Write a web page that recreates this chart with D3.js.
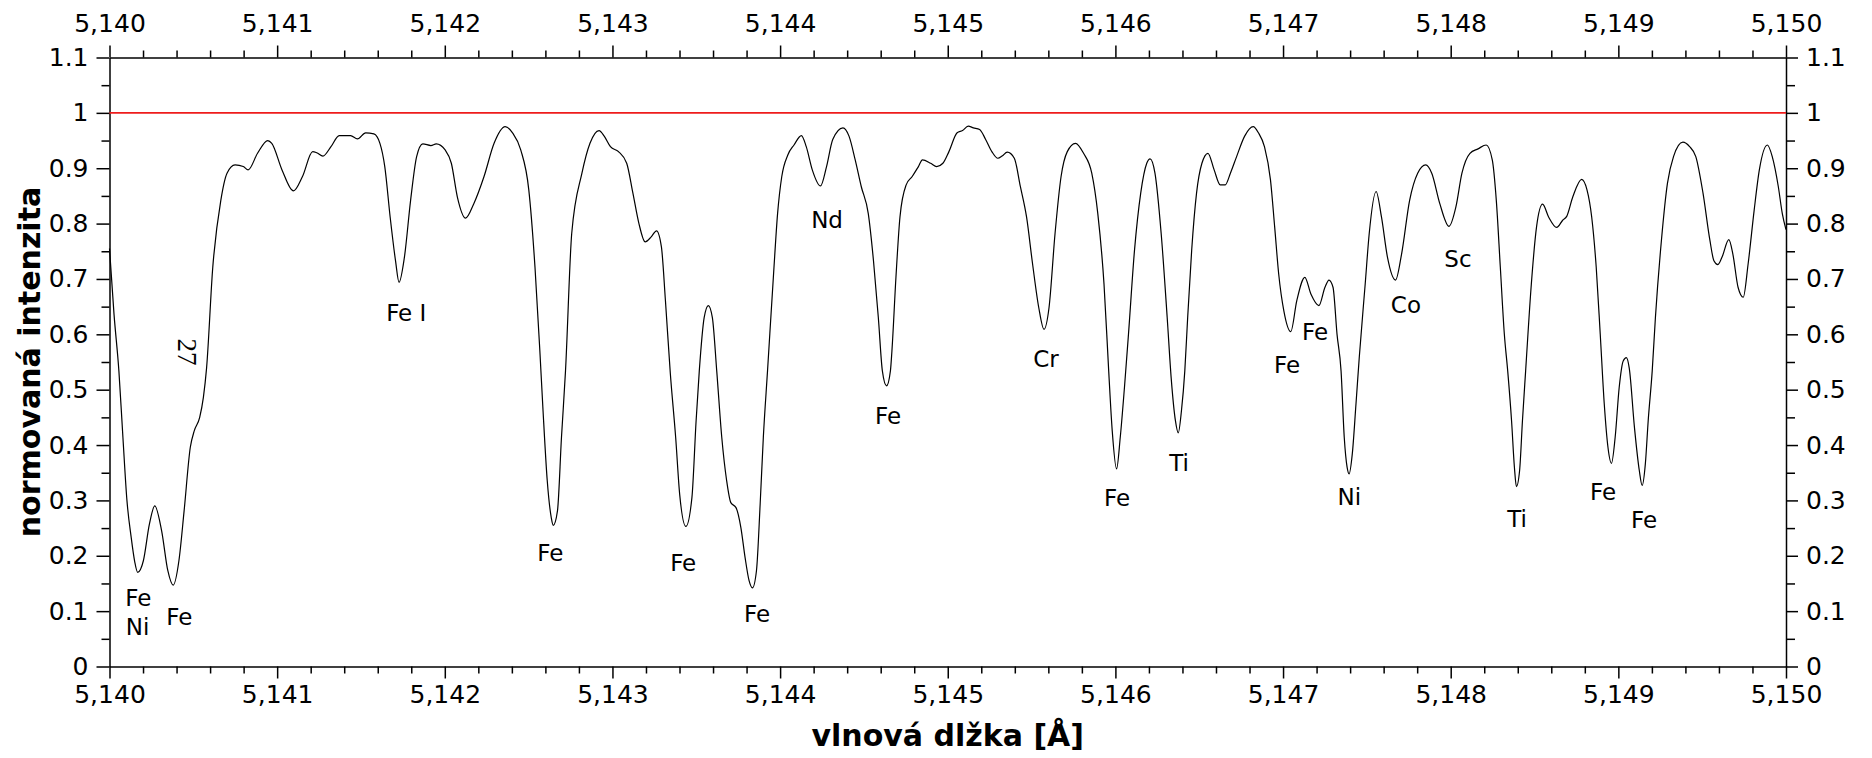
<!DOCTYPE html>
<html>
<head>
<meta charset="utf-8">
<script src="https://cdn.jsdelivr.net/npm/d3@7/dist/d3.min.js"></script>
<style>
  html, body { margin: 0; padding: 0; background: #fff; }
  svg { display: block; }
</style>
</head>
<body>
<script>
// ---- data ----
const wavelengths = [
5140.000,5140.027,5140.056,5140.080,5140.104,5140.129,5140.150,5140.168,5140.202,5140.238,5140.270,5140.311,5140.348,
5140.380,5140.414,5140.445,5140.482,5140.506,5140.538,5140.560,5140.579,5140.616,5140.664,
5140.701,5140.749,5140.798,5140.827,5140.883,5140.944,5140.968,5141.029,5141.097,5141.151,
5141.212,5141.236,5141.273,5141.321,5141.370,5141.438,5141.479,5141.528,5141.577,5141.613,
5141.642,5141.674,5141.706,5141.727,5141.759,5141.796,5141.832,5141.869,5141.917,5141.949,
5142.002,5142.039,5142.075,5142.124,5142.173,5142.234,5142.294,5142.360,5142.404,5142.453,
5142.501,5142.538,5142.567,5142.586,5142.611,5142.635,5142.647,5142.672,5142.696,5142.720,
5142.757,5142.818,5142.866,5142.920,5142.951,5142.988,5143.036,5143.085,5143.122,5143.158,
5143.195,5143.231,5143.263,5143.292,5143.316,5143.345,5143.377,5143.401,5143.438,5143.474,
5143.499,5143.518,5143.547,5143.572,5143.596,5143.622,5143.652,5143.681,5143.706,5143.737,
5143.766,5143.791,5143.815,5143.835,5143.859,5143.881,5143.900,5143.925,5143.961,5143.985,
5144.010,5144.046,5144.083,5144.127,5144.156,5144.192,5144.241,5144.277,5144.314,5144.375,
5144.411,5144.448,5144.484,5144.526,5144.557,5144.586,5144.610,5144.635,5144.658,5144.667,
5144.691,5144.715,5144.752,5144.788,5144.825,5144.849,5144.898,5144.934,5144.971,5145.007,
5145.056,5145.088,5145.122,5145.153,5145.190,5145.226,5145.263,5145.299,5145.324,5145.355,
5145.397,5145.433,5145.470,5145.506,5145.543,5145.574,5145.604,5145.640,5145.676,5145.713,
5145.762,5145.810,5145.859,5145.895,5145.932,5145.960,5145.981,5146.007,5146.029,5146.054,
5146.078,5146.114,5146.151,5146.187,5146.207,5146.236,5146.273,5146.309,5146.333,5146.358,
5146.375,5146.394,5146.414,5146.431,5146.455,5146.484,5146.516,5146.552,5146.589,5146.625,
5146.655,5146.686,5146.723,5146.771,5146.822,5146.853,5146.889,5146.925,5146.950,5146.974,
5147.005,5147.046,5147.082,5147.130,5147.166,5147.214,5147.250,5147.274,5147.298,5147.322,
5147.346,5147.365,5147.382,5147.394,5147.413,5147.435,5147.455,5147.490,5147.514,5147.555,
5147.587,5147.623,5147.671,5147.707,5147.755,5147.803,5147.851,5147.887,5147.935,5147.990,
5148.031,5148.067,5148.115,5148.163,5148.212,5148.248,5148.272,5148.296,5148.320,5148.340,
5148.363,5148.380,5148.392,5148.411,5148.428,5148.447,5148.481,5148.512,5148.548,5148.584,
5148.632,5148.668,5148.692,5148.728,5148.781,5148.813,5148.841,5148.868,5148.892,5148.916,
5148.938,5148.959,5148.981,5149.005,5149.029,5149.048,5149.065,5149.096,5149.125,5149.142,
5149.161,5149.178,5149.202,5149.221,5149.257,5149.293,5149.329,5149.385,5149.425,5149.462,
5149.505,5149.546,5149.570,5149.594,5149.618,5149.659,5149.683,5149.714,5149.745,5149.774,
5149.810,5149.841,5149.889,5149.918,5149.954,5149.978,5150.000
];
const intensities = [
0.755,0.636,0.534,0.414,0.300,0.234,0.190,0.170,0.191,0.257,0.290,0.245,0.173,
0.147,0.191,0.281,0.396,0.426,0.450,0.486,0.539,0.721,0.842,
0.891,0.906,0.903,0.897,0.927,0.950,0.945,0.897,0.859,0.885,
0.930,0.928,0.922,0.939,0.959,0.959,0.953,0.964,0.962,0.945,
0.903,0.812,0.733,0.694,0.739,0.842,0.921,0.944,0.941,0.944,
0.933,0.909,0.848,0.810,0.836,0.885,0.945,0.975,0.964,0.933,
0.861,0.721,0.570,0.462,0.336,0.269,0.255,0.281,0.414,0.534,
0.782,0.891,0.945,0.968,0.958,0.939,0.930,0.909,0.855,0.800,
0.767,0.776,0.787,0.758,0.661,0.530,0.414,0.311,0.253,0.305,
0.444,0.534,0.630,0.652,0.630,0.534,0.414,0.336,0.296,0.287,
0.251,0.197,0.155,0.142,0.173,0.293,0.414,0.534,0.709,0.818,
0.885,0.924,0.942,0.959,0.939,0.897,0.868,0.903,0.952,0.973,
0.958,0.915,0.867,0.818,0.733,0.630,0.534,0.507,0.534,0.570,
0.703,0.812,0.870,0.885,0.903,0.915,0.909,0.903,0.909,0.930,
0.964,0.968,0.976,0.973,0.970,0.952,0.930,0.918,0.922,0.929,
0.918,0.867,0.812,0.727,0.648,0.609,0.648,0.782,0.885,0.930,
0.945,0.927,0.891,0.818,0.691,0.534,0.426,0.357,0.414,0.504,
0.600,0.752,0.855,0.909,0.917,0.891,0.782,0.630,0.520,0.444,
0.422,0.462,0.534,0.630,0.752,0.855,0.909,0.927,0.897,0.870,
0.870,0.891,0.921,0.958,0.975,0.964,0.939,0.879,0.794,0.709,
0.642,0.605,0.661,0.703,0.673,0.652,0.685,0.698,0.685,0.600,
0.534,0.414,0.360,0.348,0.384,0.474,0.560,0.691,0.782,0.858,
0.812,0.739,0.698,0.745,0.842,0.891,0.906,0.891,0.836,0.795,
0.830,0.891,0.927,0.935,0.942,0.915,0.842,0.721,0.600,0.534,
0.444,0.360,0.325,0.354,0.444,0.534,0.691,0.794,0.835,0.812,
0.793,0.806,0.813,0.848,0.880,0.861,0.812,0.721,0.600,0.474,
0.396,0.367,0.414,0.504,0.552,0.558,0.539,0.432,0.354,0.327,
0.366,0.444,0.534,0.630,0.770,0.873,0.921,0.947,0.939,0.921,
0.855,0.770,0.733,0.726,0.739,0.771,0.745,0.685,0.667,0.727,
0.824,0.897,0.942,0.921,0.867,0.818,0.789
];
const continuumLevel = 1;

const lineLabels = ["Fe","Ni","Fe","Fe I","Fe","Fe","Fe","Nd","Fe","Cr","Fe","Ti","Fe","Fe","Co","Sc","Ni","Ti","Fe","Fe"];
const lineLabelWl = [5140.172,5140.168,5140.416,5141.770,5142.629,5143.422,5143.863,5144.280,5144.644,5145.586,5146.010,5146.380,5147.024,5147.191,5147.733,5148.043,5147.395,5148.396,5148.909,5149.154];
const lineLabelVal = [0.124,0.072,0.090,0.640,0.205,0.187,0.095,0.808,0.453,0.557,0.305,0.368,0.546,0.604,0.653,0.736,0.306,0.267,0.315,0.265];

const strayText = "27";
const strayWl = 5140.465;
const strayVal = 0.568;

const xMajorTicks = [5140,5141,5142,5143,5144,5145,5146,5147,5148,5149,5150];
const yMajorTicks = [0,0.1,0.2,0.3,0.4,0.5,0.6,0.7,0.8,0.9,1,1.1];
const xLabel = "vlnová dlžka [Å]";
const yLabel = "normovaná intenzita";

// ---- layout ----
const W = 1872, H = 758;
const L = 109.5, R = 1786, T = 57.5, B = 666.5;
const FONT = "DejaVu Sans";
const TICK_FONT = 25;

const svg = d3.select("body").append("svg").attr("width", W).attr("height", H);
svg.append("rect").attr("width", W).attr("height", H).attr("fill", "#fff");

const x = d3.scaleLinear().domain([5140, 5150]).range([L, R]);
const y = d3.scaleLinear().domain([0, 1.1]).range([B, T]);

const xMinor = d3.range(5140, 5150.001, 0.2).filter(v => Math.abs(v - Math.round(v)) > 1e-6);
const yMinor = d3.range(0.05, 1.1, 0.1);

const fmtX = d3.format(",");
const fmtY = d => d3.format("~g")(+d.toFixed(2));

function styleAxis(g, size) {
  g.attr("font-family", FONT).attr("font-size", size);
  g.selectAll("path, line").attr("stroke", "#000").attr("stroke-width", 1.5);
  g.selectAll("text").attr("fill", "#000");
}

// minor ticks
svg.append("g").attr("transform", `translate(0,${B})`)
  .call(d3.axisBottom(x).tickValues(xMinor).tickSize(7).tickSizeOuter(0).tickFormat(""))
  .call(g => { g.select(".domain").remove(); styleAxis(g, TICK_FONT); });
svg.append("g").attr("transform", `translate(0,${T})`)
  .call(d3.axisTop(x).tickValues(xMinor).tickSize(7).tickSizeOuter(0).tickFormat(""))
  .call(g => { g.select(".domain").remove(); styleAxis(g, TICK_FONT); });
svg.append("g").attr("transform", `translate(${L},0)`)
  .call(d3.axisLeft(y).tickValues(yMinor).tickSize(8).tickSizeOuter(0).tickFormat(""))
  .call(g => { g.select(".domain").remove(); styleAxis(g, TICK_FONT); });
svg.append("g").attr("transform", `translate(${R},0)`)
  .call(d3.axisRight(y).tickValues(yMinor).tickSize(9).tickSizeOuter(0).tickFormat(""))
  .call(g => { g.select(".domain").remove(); styleAxis(g, TICK_FONT); });

// major axes
svg.append("g").attr("transform", `translate(0,${B})`)
  .call(d3.axisBottom(x).tickValues(xMajorTicks).tickSize(12).tickSizeOuter(0).tickPadding(7).tickFormat(fmtX))
  .call(g => styleAxis(g, TICK_FONT));
svg.append("g").attr("transform", `translate(0,${T})`)
  .call(d3.axisTop(x).tickValues(xMajorTicks).tickSize(12).tickSizeOuter(0).tickPadding(14).tickFormat(fmtX))
  .call(g => styleAxis(g, TICK_FONT));
svg.append("g").attr("transform", `translate(${L},0)`)
  .call(d3.axisLeft(y).tickValues(yMajorTicks).tickSize(13).tickSizeOuter(0).tickPadding(8).tickFormat(fmtY))
  .call(g => styleAxis(g, TICK_FONT));
svg.append("g").attr("transform", `translate(${R},0)`)
  .call(d3.axisRight(y).tickValues(yMajorTicks).tickSize(12).tickSizeOuter(0).tickPadding(8).tickFormat(fmtY))
  .call(g => styleAxis(g, TICK_FONT));

// continuum line
svg.append("line")
  .attr("x1", x(5140)).attr("x2", x(5150))
  .attr("y1", y(continuumLevel)).attr("y2", y(continuumLevel))
  .attr("stroke", "#ee1c1c").attr("stroke-width", 1.6);

// spectrum
const pts = wavelengths.map((w, i) => [w, intensities[i]]);
svg.append("path")
  .datum(pts)
  .attr("fill", "none")
  .attr("stroke", "#000")
  .attr("stroke-width", 1.2)
  .attr("d", d3.line().x(d => x(d[0])).y(d => y(d[1])).curve(d3.curveMonotoneX));

// line labels
svg.append("g").selectAll("text")
  .data(lineLabels.map((t, i) => ({ t, w: lineLabelWl[i], v: lineLabelVal[i] })))
  .join("text")
  .attr("x", d => x(d.w)).attr("y", d => y(d.v))
  .attr("dy", "0.365em")
  .attr("text-anchor", "middle")
  .attr("font-family", FONT).attr("font-size", 23)
  .attr("fill", "#000")
  .text(d => d.t);

// stray rotated note
svg.append("text")
  .attr("transform", `translate(${x(strayWl)},${y(strayVal)}) rotate(90)`)
  .attr("text-anchor", "middle").attr("dy", "0.35em")
  .attr("font-family", "Liberation Serif").attr("font-size", 27)
  .attr("fill", "#000")
  .text(strayText);

// axis titles
svg.append("text")
  .attr("x", (L + R) / 2).attr("y", 746)
  .attr("text-anchor", "middle")
  .attr("font-family", FONT).attr("font-size", 30).attr("font-weight", "bold")
  .text(xLabel);
svg.append("text")
  .attr("transform", `translate(40,${(T + B) / 2}) rotate(-90)`)
  .attr("text-anchor", "middle")
  .attr("font-family", FONT).attr("font-size", 30).attr("font-weight", "bold")
  .text(yLabel);
</script>
</body>
</html>
